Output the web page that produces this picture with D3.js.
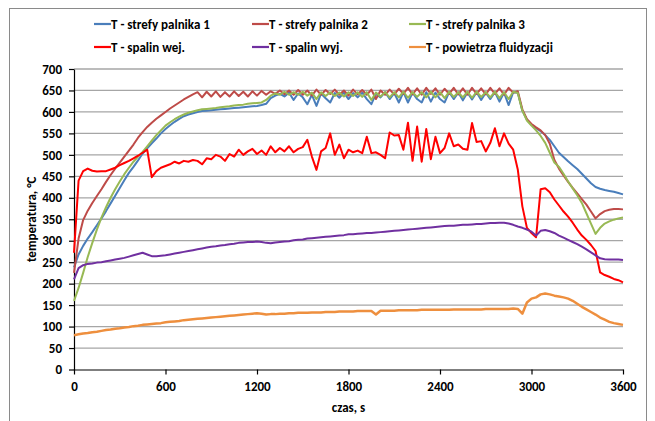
<!DOCTYPE html>
<html>
<head>
<meta charset="utf-8">
<script src="https://cdn.jsdelivr.net/npm/d3@7"></script>
<style>
    body { margin: 0; background: #fff; }
    text { font-family: Carlito, Lato, sans-serif; font-weight: bold; fill: #000; }
</style>
</head>
<body>
<div id="chart"></div>
<script>
// time axis, one sample every 30 s
const czas = d3.range(0, 3601, 30)

const xTicks = [0, 600, 1200, 1800, 2400, 3000, 3600]
const yTicks = [0, 50, 100, 150, 200, 250, 300, 350, 400, 450, 500, 550, 600, 650, 700]

const strefa1 = [
    238, 268, 288, 305, 320, 336, 352, 369, 387, 405,
    423, 441, 458, 472, 487, 503, 515, 527, 538, 550,
    560, 569, 577, 584, 590, 594, 597, 600, 602, 603,
    604, 605, 606, 607, 608, 609, 610, 611, 612, 613,
    614, 616, 619, 632, 638, 642, 636, 645, 628, 643,
    634, 618, 640, 614, 643, 632, 622, 644, 633, 645,
    630, 644, 634, 645, 630, 618, 642, 634, 646, 630,
    644, 622, 646, 622, 645, 630, 622, 646, 624, 645,
    630, 622, 646, 630, 645, 627, 645, 629, 646, 628,
    645, 630, 646, 624, 645, 616, 646, 645, 603, 582,
    570, 562, 555, 546, 535, 520, 505, 495, 485, 476,
    467, 456, 445, 434, 425, 421, 418, 416, 414, 411,
    408
]

const strefa2 = [
    225, 305, 348, 370, 388, 404, 420, 437, 453, 468,
    482, 496, 510, 524, 540, 553, 565, 575, 584, 592,
    600, 608, 615, 622, 629, 635, 641, 646, 634, 647,
    636, 648, 635, 646, 636, 648, 637, 647, 636, 648,
    638, 649, 640, 648, 642, 650, 641, 650, 640, 651,
    640, 650, 638, 652, 640, 651, 642, 652, 640, 650,
    638, 652, 641, 651, 640, 652, 630, 650, 640, 652,
    641, 654, 642, 656, 641, 655, 640, 656, 642, 655,
    640, 654, 642, 656, 641, 655, 640, 656, 642, 655,
    641, 656, 642, 655, 640, 656, 645, 648, 606, 583,
    572, 564, 557, 546, 526, 488, 468, 452, 437, 423,
    410, 397, 384, 368, 352, 362, 369, 372, 374, 374,
    373
]

const strefa3 = [
    160, 190, 225, 262, 295, 326, 354, 378, 400, 420,
    438, 455, 470, 484, 496, 507, 520, 533, 546, 557,
    568, 576, 583, 589, 594, 598, 601, 604, 606, 607,
    608, 609, 611, 612, 613, 615, 616, 617, 619, 620,
    621, 622, 628, 638, 643, 640, 647, 640, 646, 640,
    647, 638, 645, 630, 646, 637, 646, 637, 645, 636,
    646, 637, 646, 635, 646, 628, 645, 636, 646, 634,
    646, 634, 647, 633, 646, 635, 646, 634, 647, 634,
    646, 632, 647, 635, 646, 634, 647, 633, 647, 635,
    646, 634, 647, 632, 646, 630, 647, 644, 603, 580,
    568, 557, 544, 528, 505, 482, 472, 456, 438, 422,
    406, 388, 364, 340, 316, 330, 340, 345, 349, 352,
    354
]

const spalinWej = [
    272, 440, 462, 468, 463, 461, 462, 462, 466, 470,
    476, 481, 486, 492, 498, 505, 512, 448, 462, 470,
    474, 478, 484, 480, 486, 484, 488, 486, 478, 492,
    490, 500, 496, 486, 502, 496, 512, 500, 508, 514,
    502, 510, 500, 520, 506, 516, 508, 520, 506, 514,
    518, 535, 496, 465, 508, 516, 550, 500, 524, 492,
    512, 506, 510, 504, 542, 504, 506, 500, 492, 552,
    545, 546, 512, 575, 486, 566, 484, 560, 490, 542,
    504, 516, 550, 520, 524, 514, 512, 574, 530, 532,
    508, 528, 562, 520, 550, 526, 512, 466, 380, 330,
    318, 308, 420, 422, 413, 396, 382, 368, 356, 342,
    326, 312, 302, 290, 276, 226, 220, 216, 211, 208,
    203
]

const spalinWyj = [
    210, 236, 243, 246, 247, 249, 250, 252, 254, 256,
    258, 260, 263, 266, 269, 272, 268, 264, 264, 265,
    266, 268, 270, 272, 274, 276, 278, 280, 282, 284,
    286, 287, 289, 290, 292, 293, 295, 296, 297, 297,
    298, 297, 295, 294, 296, 297, 298, 299, 301, 302,
    303, 305, 306, 307, 308, 309, 310, 311, 312, 313,
    315, 315, 316, 317, 318, 318, 319, 320, 321, 322,
    323, 324, 325, 326, 327, 328, 329, 330, 331, 332,
    333, 334, 335, 335, 336, 337, 337, 338, 339, 339,
    340, 341, 341, 342, 342, 340, 337, 333, 330, 326,
    321, 312, 323, 325, 322, 318, 312, 307, 302, 297,
    292, 286, 280, 273, 266, 259, 257, 256, 256, 256,
    255
]

const powietrze = [
    80, 82, 84, 85, 87, 88, 90, 92, 93, 95,
    96, 98, 99, 101, 102, 104, 105, 106, 107, 108,
    110, 111, 112, 113, 115, 116, 117, 118, 119, 120,
    121, 122, 123, 124, 125, 126, 127, 128, 129, 130,
    131, 130, 128, 129, 129, 130, 130, 131, 131, 132,
    132, 132, 133, 133, 133, 134, 134, 134, 135, 135,
    135, 135, 136, 136, 136, 136, 128, 137, 137, 137,
    137, 138, 138, 138, 138, 138, 139, 139, 139, 139,
    139, 139, 139, 140, 140, 140, 140, 140, 140, 140,
    141, 141, 141, 141, 141, 141, 142, 141, 130, 156,
    165, 168, 175, 177, 175, 172, 170, 168, 165, 160,
    153, 146, 140, 134, 128, 121, 116, 111, 108, 106,
    104
]

const SERIES = [
    { name: "T - strefy palnika 1", values: strefa1, color: "#4A7EBB", width: 2 },
    { name: "T - strefy palnika 2", values: strefa2, color: "#BE4B48", width: 2 },
    { name: "T - strefy palnika 3", values: strefa3, color: "#98B954", width: 2 },
    { name: "T - spalin wej.", values: spalinWej, color: "#FF0000", width: 2 },
    { name: "T - spalin wyj.", values: spalinWyj, color: "#7030A0", width: 2 },
    { name: "T - powietrza fluidyzacji", values: powietrze, color: "#EE8F3E", width: 2.5 }
]

const WIDTH = 655
const HEIGHT = 421
const MARGIN = { TOP: 69, BOTTOM: 51.5, LEFT: 74, RIGHT: 32 }

const svg = d3.select("#chart")
    .append("svg")
    .attr("width", WIDTH)
    .attr("height", HEIGHT)

// outer chart border (bottom edge falls outside the picture)
svg.append("rect")
    .attr("x", 9.5)
    .attr("y", 8.5)
    .attr("width", 637)
    .attr("height", 420)
    .attr("fill", "none")
    .attr("stroke", "#8a8a8a")
    .attr("stroke-width", 1)

const x = d3.scaleLinear()
    .domain([0, 3600])
    .range([MARGIN.LEFT, WIDTH - MARGIN.RIGHT])

const y = d3.scaleLinear()
    .domain([0, 700])
    .range([HEIGHT - MARGIN.BOTTOM, MARGIN.TOP])

// horizontal gridlines
svg.append("g")
    .selectAll("line")
    .data(yTicks.filter(d => d > 0))
    .join("line")
    .attr("x1", x(0))
    .attr("x2", x(3600))
    .attr("y1", d => y(d))
    .attr("y2", d => y(d))
    .attr("stroke", "#a6a6a6")
    .attr("stroke-width", 1.3)

const yAxis = svg.append("g")
    .attr("transform", `translate(${x(0)},0)`)
    .call(d3.axisLeft(y).tickValues(yTicks).tickSize(5).tickSizeOuter(0).tickPadding(7))

const xAxis = svg.append("g")
    .attr("transform", `translate(0,${y(0)})`)
    .call(d3.axisBottom(x).tickValues(xTicks).tickFormat(d3.format("d")).tickSize(5).tickSizeOuter(0).tickPadding(7))

for (const ax of [yAxis, xAxis]) {
    ax.select(".domain").attr("stroke", "#000").attr("stroke-width", 1.2)
    ax.selectAll(".tick line").attr("stroke", "#000").attr("stroke-width", 1.2)
    ax.selectAll("text")
        .attr("font-size", 13)
        .attr("font-family", "Carlito, Lato, sans-serif")
        .attr("font-weight", "bold")
        .attr("fill", "#000")
}

const line = d3.line()
    .x((d, i) => x(czas[i]))
    .y(d => y(d))

svg.append("g")
    .selectAll("path")
    .data(SERIES)
    .join("path")
    .attr("d", d => line(d.values))
    .attr("fill", "none")
    .attr("stroke", d => d.color)
    .attr("stroke-width", d => d.width)
    .attr("stroke-linejoin", "round")

// axis titles
svg.append("text")
    .attr("transform", `translate(31,${(y(0) + y(700)) / 2}) rotate(-90)`)
    .attr("text-anchor", "middle")
    .attr("dy", "0.35em")
    .attr("font-size", 13)
    .text("temperatura, °C")

svg.append("text")
    .attr("x", (x(0) + x(3600)) / 2)
    .attr("y", 407)
    .attr("text-anchor", "middle")
    .attr("dy", "0.35em")
    .attr("font-size", 13)
    .text("czas, s")

// legend, two rows of three
const legendCols = [94, 252, 409]
const legendRows = [24, 47]

const legend = svg.append("g")
    .selectAll("g")
    .data(SERIES)
    .join("g")
    .attr("transform", (d, i) => `translate(${legendCols[i % 3]},${legendRows[Math.floor(i / 3)]})`)

legend.append("line")
    .attr("x1", 0)
    .attr("x2", 17)
    .attr("stroke", d => d.color)
    .attr("stroke-width", 2.2)

legend.append("text")
    .attr("x", 17)
    .attr("dy", "0.35em")
    .attr("font-size", 13)
    .text(d => d.name)
</script>
</body>
</html>
